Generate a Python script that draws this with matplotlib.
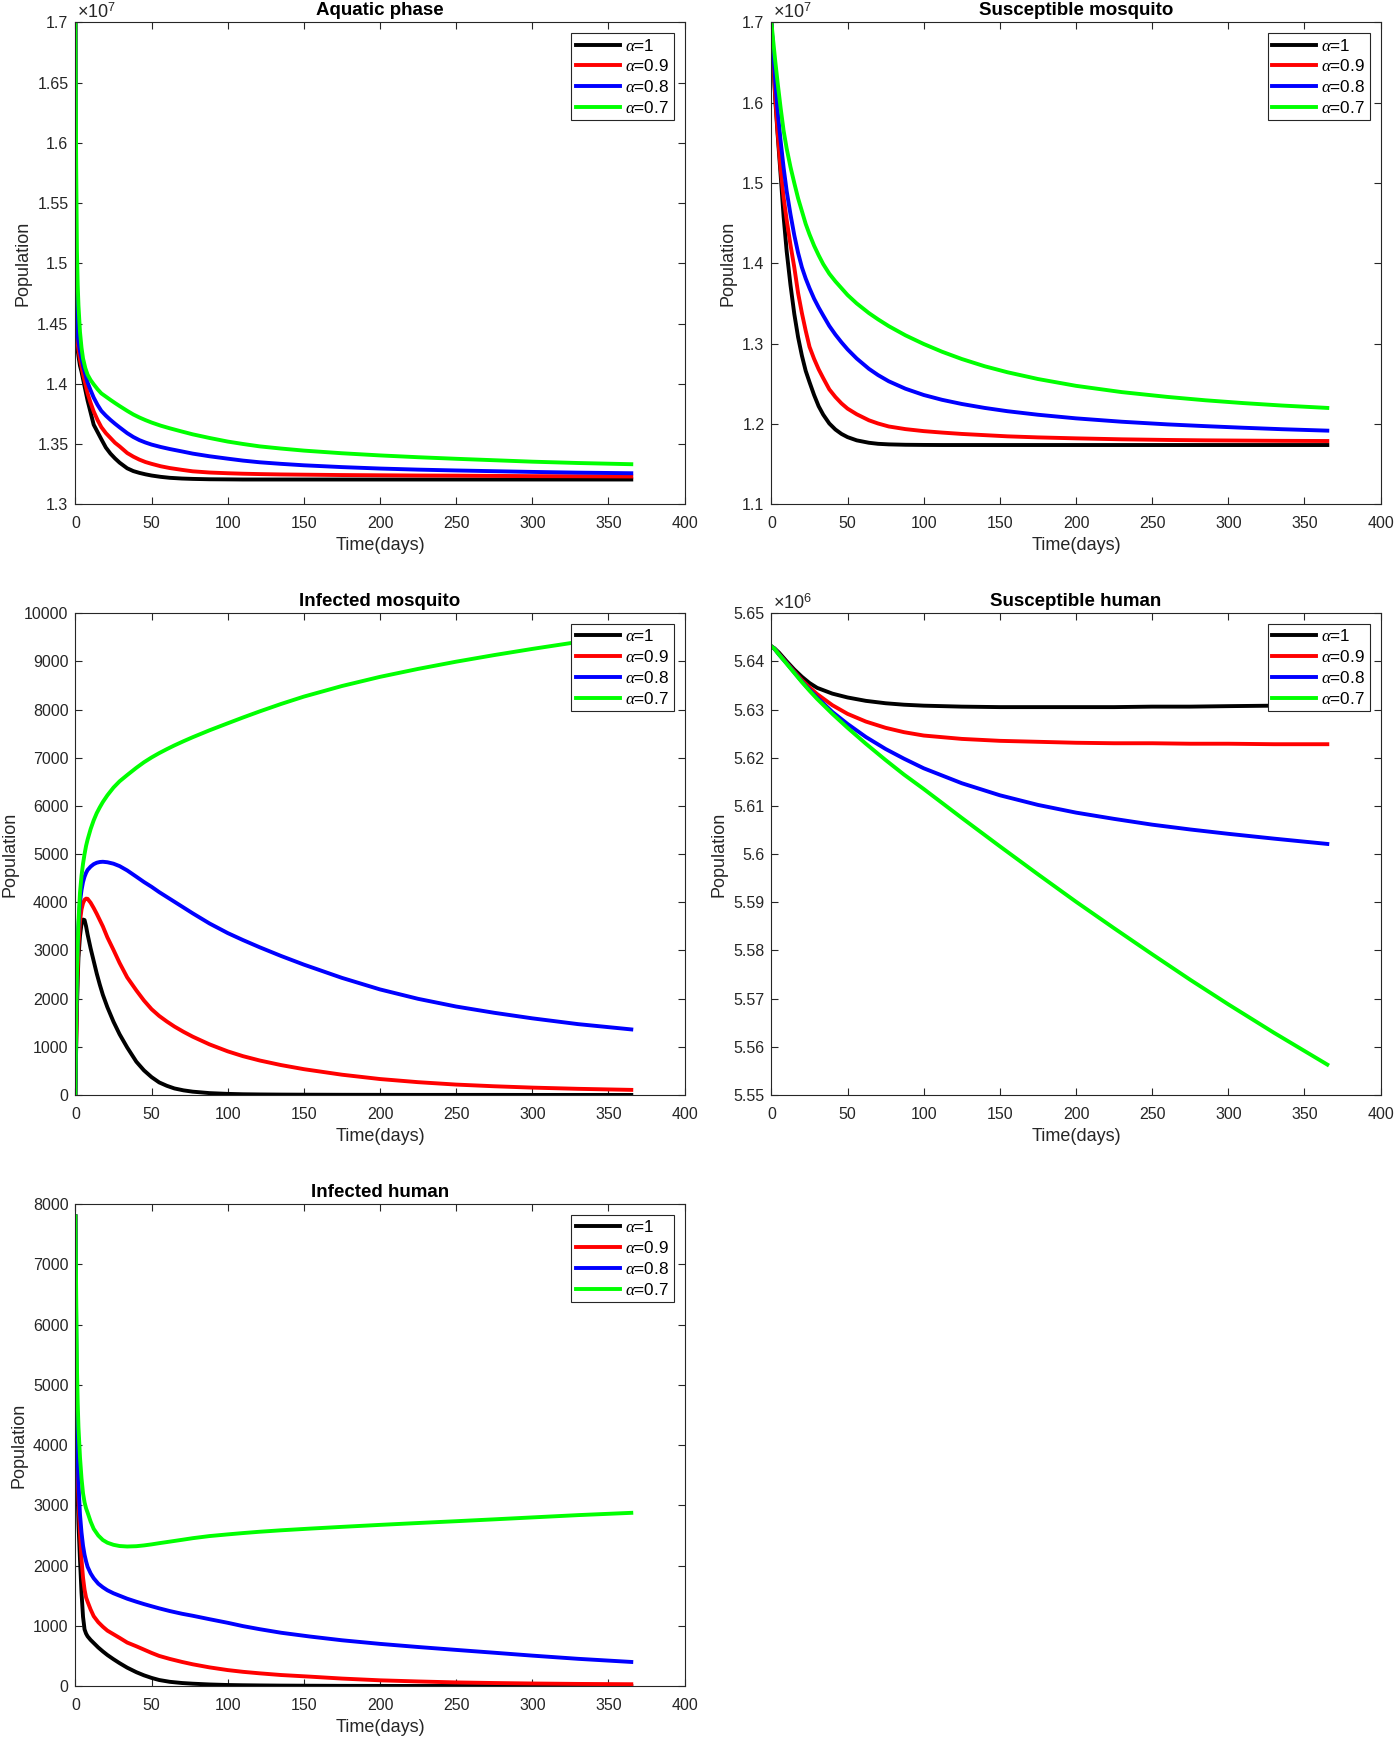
import numpy as np
import matplotlib.pyplot as plt
from matplotlib.ticker import FuncFormatter

plt.rcParams['font.family'] = ['Liberation Sans', 'DejaVu Sans']
plt.rcParams['mathtext.fontset'] = 'custom'
plt.rcParams['mathtext.rm'] = 'Liberation Sans'
plt.rcParams['mathtext.it'] = 'Liberation Serif:italic'
plt.rcParams['mathtext.bf'] = 'Liberation Sans:bold'

# fractional orders and their line colours
alphas = ['1', '0.9', '0.8', '0.7']
colors = ['#000000', '#ff0000', '#0000ff', '#00ff00']

# Aquatic phase (x 1e7)
t_aq = [0, 0.25, 0.5, 1, 1.5, 2, 3, 4, 5, 6.5, 8, 10, 12, 14.5, 17, 20, 23, 26, 29, 34, 38, 42, 46, 50,
        56, 62, 70, 77, 88, 100, 110, 121, 135, 150, 175, 200, 225, 250, 275, 300, 330, 365]
aq_a1 = [1.700, 1.500, 1.440, 1.434, 1.428, 1.423, 1.415, 1.410, 1.404, 1.395, 1.386, 1.376, 1.366, 1.360,
         1.354, 1.347, 1.342, 1.338, 1.3345, 1.3298, 1.3275, 1.3260, 1.3248, 1.3238, 1.3227, 1.3219, 1.3213,
         1.3210, 1.3207, 1.3206, 1.3205, 1.3205, 1.3205, 1.3205, 1.3205, 1.3205, 1.3205, 1.3205, 1.3205,
         1.3205, 1.3205, 1.3205]
aq_a09 = [1.700, 1.520, 1.445, 1.439, 1.433, 1.428, 1.420, 1.414, 1.408, 1.400, 1.392, 1.384, 1.377, 1.370,
          1.364, 1.359, 1.355, 1.351, 1.348, 1.3425, 1.3395, 1.337, 1.335, 1.3335, 1.3315, 1.330, 1.3285,
          1.3273, 1.3263, 1.3257, 1.3253, 1.325, 1.3247, 1.3245, 1.3242, 1.324, 1.3238, 1.3237, 1.3235,
          1.3233, 1.3232, 1.323]
aq_a08 = [1.700, 1.540, 1.455, 1.446, 1.440, 1.435, 1.427, 1.421, 1.415, 1.408, 1.401, 1.3945, 1.3885,
          1.3825, 1.3775, 1.3735, 1.370, 1.3668, 1.3638, 1.359, 1.3558, 1.3532, 1.3512, 1.3495, 1.3475,
          1.3458, 1.3438, 1.342, 1.3398, 1.3378, 1.3362, 1.3348, 1.3335, 1.3323, 1.3308, 1.3296, 1.3287,
          1.328, 1.3274, 1.3268, 1.3262, 1.3257]
aq_a07 = [1.700, 1.640, 1.580, 1.510, 1.482, 1.465, 1.443, 1.430, 1.421, 1.413, 1.4075, 1.403, 1.3995,
          1.3955, 1.392, 1.3893, 1.3866, 1.384, 1.3815, 1.3775, 1.3745, 1.372, 1.3698, 1.3678, 1.3652, 1.363,
          1.3603, 1.358, 1.355, 1.352, 1.350, 1.348, 1.3462, 1.3445, 1.3423, 1.3405, 1.339, 1.3377, 1.3365,
          1.3353, 1.3342, 1.3332]

# Susceptible mosquito (x 1e7)
t_sm = [0, 1, 2.5, 4, 6, 8, 10, 12.5, 15, 17.5, 20, 22.5, 25, 28, 31, 34, 38, 42, 46, 50, 56, 64, 70, 77,
        88, 100, 112, 125, 140, 155, 175, 200, 230, 260, 285, 310, 335, 365]
sm_a1 = [1.700, 1.661, 1.604, 1.562, 1.511, 1.458, 1.415, 1.373, 1.337, 1.308, 1.285, 1.266, 1.252, 1.236,
         1.222, 1.2115, 1.2005, 1.193, 1.1875, 1.1835, 1.1795, 1.1765, 1.1752, 1.1745, 1.174, 1.1738, 1.1737,
         1.1737, 1.1737, 1.1737, 1.1737, 1.1737, 1.1737, 1.1737, 1.1737, 1.1737, 1.1737, 1.1737]
sm_a09 = [1.700, 1.660, 1.608, 1.565, 1.518, 1.482, 1.454, 1.423, 1.395, 1.363, 1.338, 1.316, 1.296, 1.281,
          1.268, 1.257, 1.243, 1.2335, 1.2255, 1.219, 1.212, 1.2045, 1.2005, 1.1968, 1.1935, 1.191, 1.1892,
          1.1875, 1.186, 1.1845, 1.1832, 1.182, 1.1808, 1.180, 1.1795, 1.1792, 1.1789, 1.1787]
sm_a08 = [1.700, 1.668, 1.627, 1.591, 1.553, 1.519, 1.490, 1.461, 1.435, 1.413, 1.395, 1.381, 1.369, 1.356,
          1.345, 1.335, 1.322, 1.3112, 1.3016, 1.2928, 1.2814, 1.2686, 1.2608, 1.2531, 1.2438, 1.236, 1.230,
          1.2248, 1.2199, 1.2158, 1.2114, 1.2069, 1.2027, 1.1994, 1.1972, 1.1952, 1.1934, 1.1916]
sm_a07 = [1.700, 1.680, 1.652, 1.626, 1.594, 1.565, 1.543, 1.520, 1.500, 1.481, 1.465, 1.449, 1.436, 1.422,
          1.410, 1.399, 1.387, 1.3775, 1.369, 1.3605, 1.350, 1.338, 1.3302, 1.3218, 1.3103, 1.2995, 1.2899,
          1.2808, 1.2718, 1.2643, 1.2559, 1.2474, 1.2396, 1.2336, 1.2294, 1.2259, 1.2229, 1.2199]

# Infected mosquito
t_im = [0, 0.5, 1, 1.5, 2, 3, 4, 5, 6, 7, 8, 10, 12, 14, 16, 18, 21, 25, 29, 34, 40, 45, 50, 55, 60, 65,
        71, 77, 88, 100, 110, 121, 135, 150, 175, 200, 225, 250, 275, 300, 330, 365]
im_a1 = [0, 1000, 1800, 2400, 2850, 3300, 3550, 3640, 3630, 3500, 3330, 3040, 2780, 2520, 2290, 2080, 1820,
         1520, 1260, 985, 690, 510, 370, 260, 190, 135, 95, 68, 38, 22, 14, 10, 7, 5, 3, 2, 1, 1, 1, 0, 0, 0]
im_a09 = [0, 1100, 2000, 2650, 3100, 3600, 3850, 3980, 4050, 4075, 4070, 3990, 3880, 3760, 3630, 3500, 3270,
          3010, 2740, 2440, 2170, 1960, 1780, 1640, 1525, 1420, 1310, 1210, 1050, 905, 805, 715, 620, 535,
          420, 330, 265, 215, 180, 152, 127, 105]
im_a08 = [0, 1500, 2600, 3150, 3500, 4000, 4250, 4420, 4530, 4610, 4670, 4740, 4790, 4820, 4835, 4840, 4830,
          4800, 4750, 4660, 4530, 4420, 4320, 4210, 4110, 4010, 3890, 3770, 3560, 3360, 3215, 3065, 2885,
          2705, 2430, 2190, 1995, 1835, 1705, 1590, 1470, 1360]
im_a07 = [0, 1600, 2500, 3100, 3600, 4200, 4550, 4800, 5000, 5170, 5300, 5520, 5700, 5850, 5970, 6080, 6220,
          6380, 6510, 6640, 6790, 6905, 7005, 7095, 7177, 7255, 7342, 7425, 7568, 7714, 7834, 7961, 8115,
          8268, 8488, 8678, 8843, 8993, 9130, 9258, 9402, 9563]

# Susceptible human (x 1e6)
t_sh = [0, 2, 5, 10, 15, 20, 25, 30, 40, 50, 62, 75, 87, 100, 125, 150, 175, 200, 225, 250, 275, 300, 330, 365]
sh_a1 = [5.6431, 5.6427, 5.6418, 5.6400, 5.6383, 5.6368, 5.6355, 5.6345, 5.6333, 5.6325, 5.6318, 5.6313,
         5.6310, 5.6308, 5.6306, 5.6305, 5.6305, 5.6305, 5.6305, 5.6306, 5.6306, 5.6307, 5.6308, 5.6309]
sh_a09 = [5.6431, 5.6426, 5.6415, 5.6397, 5.6379, 5.6361, 5.6346, 5.6332, 5.6309, 5.6291, 5.6275, 5.6262,
          5.6253, 5.6246, 5.6239, 5.6235, 5.6233, 5.6231, 5.6230, 5.6230, 5.6229, 5.6229, 5.6228, 5.6228]
sh_a08 = [5.6431, 5.6426, 5.6414, 5.6396, 5.6377, 5.6358, 5.6341, 5.6325, 5.6295, 5.6270, 5.6243, 5.6218,
          5.6198, 5.6178, 5.6147, 5.6122, 5.6102, 5.6086, 5.6073, 5.6061, 5.6051, 5.6042, 5.6032, 5.6021]
sh_a07 = [5.6431, 5.6426, 5.6414, 5.6395, 5.6376, 5.6357, 5.6339, 5.6322, 5.6291, 5.6262, 5.6229, 5.6195,
          5.6165, 5.6135, 5.6075, 5.6016, 5.5958, 5.5901, 5.5846, 5.5792, 5.5739, 5.5688, 5.5629, 5.5563]

# Infected human
t_ih = [0, 0.25, 0.5, 1, 1.5, 2, 3, 4, 5, 6, 7, 8, 10, 12, 15, 18, 21, 25, 29, 34, 40, 45, 50, 55, 62, 70,
        77, 88, 100, 110, 121, 135, 154, 175, 200, 225, 250, 275, 300, 330, 365]
ih_a1 = [7800, 6200, 5000, 3800, 3200, 2700, 2100, 1550, 1150, 940, 870, 825, 765, 715, 640, 575, 515, 445,
         380, 305, 230, 178, 135, 100, 70, 50, 39, 26, 17, 13, 10, 7, 5, 3, 2, 1, 1, 0, 0, 0, 0]
ih_a09 = [7800, 6500, 5500, 4000, 3500, 3100, 2550, 2100, 1800, 1600, 1470, 1400, 1270, 1160, 1060, 985,
          920, 860, 800, 722, 660, 605, 550, 500, 450, 400, 361, 310, 265, 236, 211, 183, 156, 124, 95, 76,
          60, 50, 42, 35, 30]
ih_a08 = [7800, 6900, 6000, 4500, 3800, 3350, 2850, 2550, 2330, 2180, 2070, 1980, 1870, 1790, 1700, 1640,
          1590, 1540, 1500, 1450, 1400, 1361, 1325, 1290, 1245, 1200, 1167, 1110, 1050, 995, 944, 885, 822,
          760, 700, 648, 600, 553, 505, 452, 400]
ih_a07 = [7800, 7200, 6500, 5300, 4700, 4300, 3800, 3450, 3200, 3050, 2950, 2880, 2730, 2610, 2500, 2425,
          2380, 2345, 2325, 2317, 2322, 2335, 2352, 2372, 2398, 2428, 2455, 2490, 2518, 2540, 2562, 2586,
          2614, 2643, 2676, 2707, 2737, 2768, 2800, 2838, 2876]

grey = '#262626'
fig = plt.figure(figsize=(13.94, 17.38), dpi=100)


def panel(rect, t, series, title, yticks, exp=None):
    ax = fig.add_axes(rect)
    scale = 10 ** exp if exp else 1
    for y, c, a in zip(series, colors, alphas):
        ax.plot(t, np.array(y) * scale, color=c, lw=2.8, label=r'$\alpha$=' + a)
    yt = np.array(yticks) * scale
    ax.set_xlim(0, 400)
    ax.set_ylim(yt[0], yt[-1])
    ax.set_xticks(np.arange(0, 401, 50))
    ax.set_yticks(yt)
    ax.yaxis.set_major_formatter(FuncFormatter(lambda v, _: f"{v / scale:g}"))
    ax.tick_params(direction='in', top=True, right=True, length=5, width=0.8,
                   labelsize=11.5, colors=grey)
    ax.tick_params(axis='x', pad=8.4)
    ax.tick_params(axis='y', pad=5)
    for s in ax.spines.values():
        s.set_color(grey)
        s.set_linewidth(0.8)
    ax.set_title(title, fontsize=13.5, fontweight='bold', pad=5.5)
    ax.set_xlabel('Time(days)', fontsize=13, color=grey, labelpad=4.6)
    ax.set_ylabel('Population', fontsize=13, color=grey, labelpad=4)
    if exp:
        ax.text(0.003, 1.0, r'$\times10^{%d}$' % exp, transform=ax.transAxes,
                ha='left', va='bottom', fontsize=13, color=grey)
    leg = ax.legend(loc='upper right', fontsize=12.3, handlelength=2.6, handletextpad=0.3,
                    borderpad=0.25, labelspacing=0.28, borderaxespad=0.64, fancybox=False,
                    framealpha=1, edgecolor=grey)
    leg.get_frame().set_linewidth(0.8)
    return ax


xl, xr, w = 0.0541, 0.5534, 0.437
h = 0.2772
panel([xl, 0.7099, w, h], t_aq, [aq_a1, aq_a09, aq_a08, aq_a07], 'Aquatic phase',
      [1.3, 1.35, 1.4, 1.45, 1.5, 1.55, 1.6, 1.65, 1.7], exp=7)
panel([xr, 0.7099, w, h], t_sm, [sm_a1, sm_a09, sm_a08, sm_a07], 'Susceptible mosquito',
      [1.1, 1.2, 1.3, 1.4, 1.5, 1.6, 1.7], exp=7)
panel([xl, 0.3700, w, h], t_im, [im_a1, im_a09, im_a08, im_a07], 'Infected mosquito',
      list(range(0, 10001, 1000)))
panel([xr, 0.3700, w, h], t_sh, [sh_a1, sh_a09, sh_a08, sh_a07], 'Susceptible human',
      [5.55, 5.56, 5.57, 5.58, 5.59, 5.6, 5.61, 5.62, 5.63, 5.64, 5.65], exp=6)
panel([xl, 0.0299, w, h], t_ih, [ih_a1, ih_a09, ih_a08, ih_a07], 'Infected human',
      list(range(0, 8001, 1000)))

fig.savefig('out.png', dpi=100)
